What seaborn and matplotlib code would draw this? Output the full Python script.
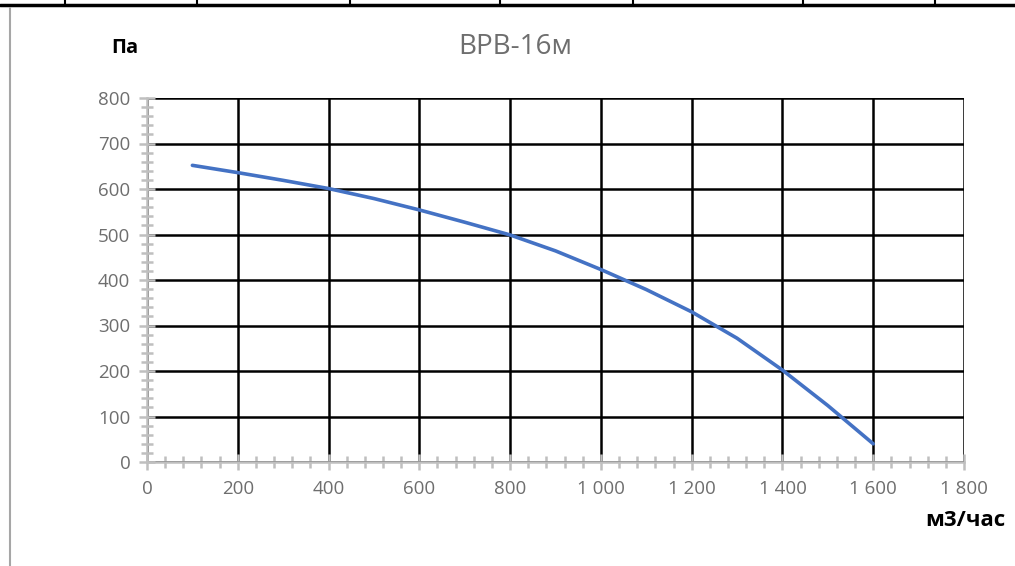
import matplotlib
matplotlib.use("Agg")
import matplotlib.pyplot as plt
import seaborn as sns
import pandas as pd
from matplotlib.ticker import MultipleLocator
from matplotlib.lines import Line2D

flow = [100, 200, 300, 400, 500, 600, 700, 800, 900, 1000, 1100, 1200, 1300, 1400, 1500, 1600]
pressure = [652, 636, 619, 601, 579, 554, 527, 499, 464, 423, 379, 330, 272, 202, 124, 40]
x_ticks = [0, 200, 400, 600, 800, 1000, 1200, 1400, 1600, 1800]
x_labels = ["0", "200", "400", "600", "800", "1\u00a0000", "1\u00a0200", "1\u00a0400", "1\u00a0600", "1\u00a0800"]
y_ticks = [0, 100, 200, 300, 400, 500, 600, 700, 800]
title = "BPB-16м"
y_unit = "Па"
x_unit = "м3/час"

sns.set_theme(style="white")
plt.rcParams['font.family'] = ['Open Sans', 'DejaVu Sans']

fig = plt.figure(figsize=(10.15, 5.66), dpi=100)
ax = fig.add_axes([147/1015, 1 - 462/566, (964-147)/1015, (462-98)/566])

df = pd.DataFrame({"flow": flow, "pressure": pressure})
sns.lineplot(data=df, x="flow", y="pressure", ax=ax, color="#4472C4", linewidth=2.6)

ax.set_xlim(0, 1800)
ax.set_ylim(0, 800)
ax.set_xticks(x_ticks)
ax.set_xticklabels(x_labels)
ax.set_yticks(y_ticks)
ax.xaxis.set_minor_locator(MultipleLocator(40))
ax.yaxis.set_minor_locator(MultipleLocator(20))
ax.grid(True, which="major", color="black", linewidth=1.8)
ax.set_axisbelow(True)
for s in ["top", "right"]:
    ax.spines[s].set_visible(False)
for s in ["left", "bottom"]:
    ax.spines[s].set_color("#BFBFBF")
    ax.spines[s].set_linewidth(1.8)
    ax.spines[s].set_zorder(1)
ax.tick_params(axis="x", which="both", bottom=True, top=False)
ax.tick_params(axis="y", which="both", left=True, right=False)
ax.tick_params(which="both", direction="inout", color="#BFBFBF", width=1.8)
ax.tick_params(which="major", length=12, labelsize=13.5, labelcolor="#6E6E6E")
ax.tick_params(which="minor", length=9)
ax.tick_params(axis="x", which="major", pad=7)
ax.tick_params(axis="y", which="major", pad=6)
ax.set_xlabel("")
ax.set_ylabel("")

fig.text(515/1015, 1 - 47/566, title, ha="center", va="center", fontsize=20, color="#6E6E6E")
fig.text(125/1015, 1 - 48/566, y_unit, ha="center", va="center", fontsize=14.5, fontweight="bold", color="black")
fig.text(965/1015, 1 - 521/566, x_unit, ha="center", va="center", fontsize=16, fontweight="bold", color="black")

# spreadsheet artifacts: top border and left edge
fig.add_artist(Line2D([0, 1], [1 - 5/566, 1 - 5/566], transform=fig.transFigure, color="black", linewidth=2.5))
for xv in [65, 197, 350, 500, 633, 803, 935]:
    fig.add_artist(Line2D([xv/1015, xv/1015], [1 - 5/566, 1], transform=fig.transFigure, color="black", linewidth=1.5))
fig.add_artist(Line2D([10/1015, 10/1015], [0, 1 - 8/566], transform=fig.transFigure, color="#A6A6A6", linewidth=1.5))

fig.savefig("out.png", dpi=100)
